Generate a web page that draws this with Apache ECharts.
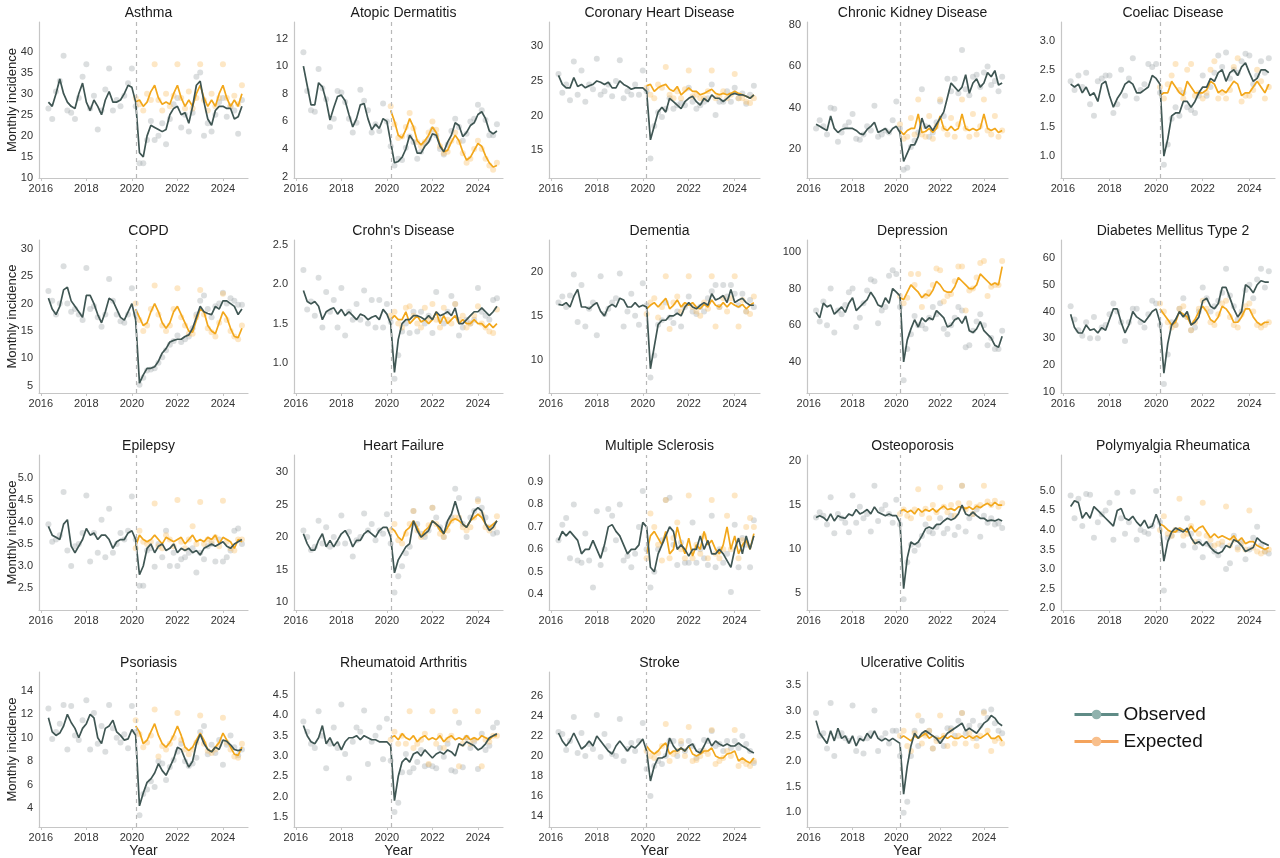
<!DOCTYPE html>
<html lang="en">
<head>
<meta charset="utf-8" />
<style>
  html, body { margin: 0; width: 100%; height: 100%; background: #fff; }
  #container { width: 1280px; height: 858px; }
</style>
<script src="https://cdn.jsdelivr.net/npm/echarts@6/dist/echarts.min.js"></script>
</head>
<body>
<div id="container"></div>
<script>
// panel titles, in reading order
var titles = ["Asthma", "Atopic Dermatitis", "Coronary Heart Disease", "Chronic Kidney Disease", "Coeliac Disease",
  "COPD", "Crohn's Disease", "Dementia", "Depression", "Diabetes Mellitus Type 2",
  "Epilepsy", "Heart Failure", "Multiple Sclerosis", "Osteoporosis", "Polymyalgia Rheumatica",
  "Psoriasis", "Rheumatoid Arthritis", "Stroke", "Ulcerative Colitis"];

var yearTicks = [2016, 2018, 2020, 2022, 2024];
var yTicks = [
  [10, 15, 20, 25, 30, 35, 40], [2, 4, 6, 8, 10, 12], [15, 20, 25, 30], [20, 40, 60, 80], [1.0, 1.5, 2.0, 2.5, 3.0],
  [5, 10, 15, 20, 25, 30], [1.0, 1.5, 2.0, 2.5], [10, 15, 20], [40, 60, 80, 100], [10, 20, 30, 40, 50, 60],
  [2.5, 3.0, 3.5, 4.0, 4.5, 5.0], [10, 15, 20, 25, 30], [0.4, 0.5, 0.6, 0.7, 0.8, 0.9], [5, 10, 15, 20], [2.0, 2.5, 3.0, 3.5, 4.0, 4.5, 5.0],
  [4, 6, 8, 10, 12, 14], [1.5, 2.0, 2.5, 3.0, 3.5, 4.0, 4.5], [14, 16, 18, 20, 22, 24, 26], [1.0, 1.5, 2.0, 2.5, 3.0, 3.5]
];

// time index: every second month from May 2016; expected starts March 2020
var firstMonth = 2016 + 4 / 12;
var stepYears = 2 / 12;
var lockdown = 2020 + 2 / 12;
var expStart = 23;

// observed rows: 2016 (May-Nov), then Jan..Nov of 2017..2024
var asthmaObs = [28, 27, 30, 33.5,
  30, 28, 27, 26.5, 30, 32.5, 28, 26, 28.5, 27, 25, 28.5, 30.5, 28, 28, 28.5, 30, 32,
  31.5, 28, 16, 15, 20, 22.5, 22, 21.5, 21, 21.5, 25, 26.5, 27, 25, 25.5, 23, 27, 32,
  33, 28, 24, 22.5, 26, 27, 27, 26.5, 26.5, 24, 24.5, 27];
var asthmaObsPts = [26.5, 24, 30.5, 33,
  39, 26, 25.5, 24, 29, 34, 37, 26.5, 29.5, 21.5, 26, 31, 36, 26, 28.5, 27, 29.5, 32.5,
  36, 27, 13.5, 13.5, 19, 23.5, 19, 20, 23, 18, 24, 27.5, 29, 22, 25, 21, 25.5, 34,
  35, 20, 23, 21, 25, 28, 29, 24.5, 27, 26, 20.5, 28.5];
var asthmaExp = [28, 28.5, 27, 28, 30.5,
  32, 29, 27.5, 28, 27.5, 30, 32, 29, 27, 28.5, 27, 30, 32, 29, 27, 28.5, 27, 30, 32, 29, 27, 28.5, 27, 30];
var asthmaExpPts = [29, 27.5, 26, 30, 28.5,
  37, 28.5, 26, 30, 27, 29.5, 37, 29, 26.5, 30.5, 26.5, 29, 37, 28.5, 26, 30, 27, 29, 37, 29, 27, 29.5, 27.5, 32];

var atopicObs = [10, 8.6, 7.2, 7.2,
  8.8, 8.5, 7.5, 6.1, 7, 7.8, 7.9, 7.5, 6.5, 5.6, 6.2, 7.2, 7.3, 6.2, 5.4, 5.8, 5.5, 6.2,
  6.0, 4.5, 3.0, 3.1, 3.4, 4.0, 5.0, 4.6, 3.7, 3.7, 4.2, 4.5, 5.1, 5.0, 4.2, 3.8, 4.5, 5.0,
  5.9, 5.7, 4.9, 5.2, 5.7, 5.9, 6.5, 6.7, 6.2, 5.3, 5.1, 5.3];
var atopicObsPts = [11, 8.2, 6.8, 6.7,
  9.8, 8.4, 7.6, 5.6, 6.2, 8.2, 8.1, 7.4, 6.2, 5.2, 5.9, 8.3, 7.5, 6.8, 5.2, 5.8, 5.3, 7.3,
  6.0, 4.2, 2.8, 3.3, 3.2, 4.1, 4.9, 4.5, 3.3, 3.8, 4.4, 4.7, 5.4, 5.0, 4.0, 3.6, 4.3, 5.3,
  6.2, 5.6, 4.6, 5.1, 6.0, 6.2, 7.2, 6.8, 6.1, 5.0, 5.0, 5.8];
var atopicExp = [6.8, 6.0, 5.0, 4.8, 5.4,
  6.2, 5.6, 4.6, 4.3, 4.6, 5.0, 5.6, 5.2, 4.3, 3.8, 3.9, 4.5, 5.0, 4.6, 3.8, 3.2, 3.4, 3.9, 4.4, 4.2, 3.5, 3.0, 2.7, 2.8];
var atopicExpPts = [7.1, 5.8, 4.8, 4.9, 5.6,
  6.6, 5.5, 4.5, 4.2, 4.5, 5.2, 6.0, 5.4, 4.2, 3.7, 3.8, 4.6, 5.2, 4.5, 3.7, 3.0, 3.3, 4.0, 4.6, 4.0, 3.3, 2.8, 2.5, 3.0];

var chdObs = [25.8, 24.5, 24, 24,
  25.5, 24.2, 24.5, 24, 24.3, 24.5, 25, 24.8, 24.5, 24.8, 24, 24, 25, 24.5, 24.2, 23.8, 24, 24,
  24, 23.5, 16.5, 18.5, 20.5, 21.2, 20.5, 22.5, 22, 21.5, 21, 22, 22.5, 22.8, 22, 21.5, 22.5, 22,
  23, 22.5, 22.5, 22, 22.5, 23, 23.2, 23, 23, 22.8, 22.5, 23];
var chdObsPts = [26, 23.3, 24.5, 22.2,
  27.8, 23, 26.5, 22, 24.5, 23.8, 28.2, 23, 23.5, 24.5, 22.8, 25, 28, 22.5, 23.5, 23, 24.5, 23,
  26.5, 23.5, 13.8, 18.5, 20.5, 19.8, 21, 22.5, 21, 21.5, 21.8, 21.5, 24, 22, 21, 21.5, 22, 22.5,
  24.5, 20.1, 22, 22, 23.5, 22, 24, 22.5, 23.2, 21.7, 23, 24.3];
var chdExp = [24.3, 24.5, 23.5, 24, 24.3,
  24.5, 23.8, 23.5, 24.2, 23, 23.5, 24, 23.5, 23.5, 23, 23.2, 23.5, 23.8, 23.2, 23, 23.2, 23, 23.2, 23.5, 23.2, 23, 22.8, 22.5, 23];
var chdExpPts = [24, 23, 22.5, 24.5, 24,
  27, 23, 22.5, 23.5, 22.5, 23.8, 26.5, 22.8, 23, 22.5, 22.5, 23.5, 26.5, 22.5, 22.8, 23.5, 22.5, 23, 26, 22.5, 22.5, 22, 21.8, 22.5];

var ckdObs = [32, 31, 30, 29,
  36, 30, 28, 29.5, 30, 30, 30, 29, 27.5, 27, 29.5, 31, 33, 28, 29, 30, 27.5, 30,
  31, 28, 14, 18, 22, 22, 26, 35, 30, 31.5, 29, 32, 35, 38, 45, 52, 50, 48,
  50, 56, 47, 52, 54, 50, 52, 57, 55, 58, 51, 52];
var ckdObsPts = [30, 34, 31, 27,
  40, 39.5, 23.5, 28, 31, 33, 37, 25, 24.5, 27, 31, 29, 41, 26, 27, 29, 28, 34,
  43, 30, 10, 11, 21, 24, 28, 49, 31, 26, 28, 33, 43, 36, 54, 48, 54, 47,
  68, 49, 46, 55, 56, 50, 57, 60, 51, 53, 48, 55];
var ckdExp = [29, 27, 29, 30, 30,
  37, 28, 28.5, 30, 28, 30, 36, 30, 29, 31, 29, 30, 37, 30, 29, 30, 29, 30, 37, 30, 29, 30, 28, 29];
var ckdExpPts = [32, 25, 26, 35, 27,
  44, 27, 26, 36, 25, 31, 44, 30, 27, 35, 26, 32, 44, 30, 26, 37, 27, 31, 44, 29, 27, 36, 26, 29];

var coeliacObs = [2.25, 2.2, 2.25, 2.1,
  2.2, 2.05, 2.1, 1.95, 2.25, 2.3, 2.05, 1.85, 2.0, 2.1, 2.25, 2.3, 2.25, 2.1, 2.1, 2.15, 2.2, 2.4,
  2.35, 2.25, 1.0, 1.3, 1.7, 1.75, 1.75, 1.95, 1.95, 1.85, 1.95, 2.1, 2.2, 2.2, 2.35, 2.3, 2.45, 2.5,
  2.3, 2.45, 2.5, 2.4, 2.55, 2.62, 2.45, 2.3, 2.35, 2.5, 2.5, 2.45];
var coeliacObsPts = [2.3, 2.15, 2.4, 2.2,
  2.45, 1.9, 1.7, 2.3, 2.35, 2.4, 2.4, 1.75, 1.9, 2.5, 2.05, 2.35, 2.7, 2.0, 2.15, 2.25, 2.6, 2.55,
  2.6, 2.1, 0.85, 1.2, 1.65, 1.85, 1.7, 2.1, 1.85, 1.8, 1.75, 2.05, 2.4, 2.05, 2.2, 2.45, 2.75, 2.55,
  2.8, 2.35, 2.5, 2.45, 2.65, 2.78, 2.75, 2.25, 2.4, 2.65, 2.45, 2.7];
var coeliacExp = [2.05, 2.1, 2.1, 2.3, 2.2,
  2.1, 2.05, 2.3, 2.2, 2.1, 2.1, 2.1, 2.15, 2.3, 2.25, 2.1, 2.15, 2.1, 2.2, 2.3, 2.25, 2.05, 2.1, 2.1, 2.2, 2.3, 2.2, 2.1, 2.25];
var coeliacExpPts = [2.2, 2.0, 2.25, 2.4, 2.6,
  2.15, 2.0, 2.5, 2.6, 2.05, 2.1, 2.0, 2.1, 2.5, 2.65, 2.0, 2.1, 2.0, 2.15, 2.55, 2.7, 1.95, 2.05, 2.05, 2.15, 2.5, 2.3, 2.0, 2.2];

var copdObs = [21, 19, 18, 19.5,
  22.5, 23, 20.5, 19.5, 18.5, 17.5, 21.5, 21.5, 20, 18, 16.5, 18.5, 21, 20.5, 19, 17.5, 17, 18.5,
  20, 17, 5.5, 7, 8.2, 8.2, 8.5, 9.5, 11, 11.8, 13, 13.3, 13.5, 13.5, 14, 14.3, 15.5, 17.5,
  19.5, 18.5, 18.2, 18, 19.5, 19, 20.5, 20.5, 20, 19.5, 18, 19];
var copdObsPts = [22.3, 20.5, 18, 20,
  26.8, 20, 18.5, 19, 18, 17, 26.5, 19, 19.5, 17.5, 15.8, 18, 24.5, 20.5, 18, 16.8, 16.5, 18,
  22.8, 18, 5.2, 6.5, 7.8, 8, 8.2, 9.2, 10.2, 11.5, 12.5, 13.2, 14.2, 13, 13.5, 14, 15.5, 18,
  20.5, 21.5, 19, 17.5, 19.5, 20, 22, 20, 21, 20.5, 19.8, 19.8];
var copdExp = [19, 17.5, 16, 16.5, 18.5,
  20, 18.5, 16.5, 15.5, 16.5, 18.5, 19.5, 18, 16.5, 15, 14.8, 17, 19, 18.5, 16, 15, 14.5, 16.5, 18.5, 17.5, 15.5, 14, 13.8, 15.5];
var copdExpPts = [20, 17, 15, 16, 19,
  23.3, 18, 16, 15, 16, 19, 22.8, 17.5, 16, 14.5, 14.5, 17.5, 22.5, 18, 15.5, 14.8, 14, 16.5, 21.8, 17, 15, 14, 13.5, 16];

var crohnsObs = [1.92, 1.78, 1.75, 1.78,
  1.72, 1.55, 1.65, 1.68, 1.7, 1.62, 1.68, 1.6, 1.65, 1.6, 1.55, 1.62, 1.6, 1.55, 1.58, 1.6, 1.55, 1.68,
  1.62, 1.5, 0.88, 1.3, 1.5, 1.55, 1.55, 1.6, 1.6, 1.58, 1.55, 1.6, 1.55, 1.65, 1.6, 1.62, 1.65, 1.6,
  1.7, 1.5, 1.5, 1.55, 1.6, 1.65, 1.65, 1.7, 1.65, 1.6, 1.65, 1.72];
var crohnsObsPts = [2.18, 1.68, 1.78, 1.6,
  2.08, 1.45, 1.9, 1.65, 1.8, 1.45, 1.95, 1.35, 1.65, 1.55, 1.75, 1.55, 1.92, 1.5, 1.8, 1.45, 1.8, 1.45,
  1.75, 1.52, 0.8, 1.1, 1.4, 1.5, 1.38, 1.65, 1.4, 1.65, 1.5, 1.6, 1.38, 1.9, 1.55, 1.5, 1.65, 1.85,
  1.75, 1.35, 1.45, 1.55, 1.5, 1.55, 1.95, 1.65, 1.6, 1.55, 1.8, 1.82];
var crohnsExp = [1.55, 1.6, 1.55, 1.55, 1.65,
  1.5, 1.55, 1.6, 1.52, 1.55, 1.5, 1.55, 1.65, 1.5, 1.6, 1.5, 1.55, 1.6, 1.5, 1.55, 1.5, 1.5, 1.55, 1.5, 1.5, 1.45, 1.5, 1.45, 1.5];
var crohnsExpPts = [1.6, 1.65, 1.5, 1.45, 1.7,
  1.72, 1.6, 1.5, 1.45, 1.7, 1.55, 1.75, 1.55, 1.45, 1.7, 1.55, 1.5, 1.75, 1.55, 1.6, 1.45, 1.5, 1.6, 1.72, 1.5, 1.45, 1.4, 1.38, 1.68];

var dementiaObs = [16.3, 16.2, 16.5, 16,
  17.2, 18, 16, 16, 15.8, 16.2, 16.5, 15.5, 15, 16, 16.3, 16, 17, 16.8, 16, 16, 16.5, 16,
  16.2, 16, 9, 11.5, 14, 14.5, 14.5, 15, 15, 15.3, 15, 16, 16.5, 16, 15.8, 16.2, 16.5, 16.2,
  17.5, 16.8, 17, 17.3, 16.5, 18, 16.5, 16.8, 17, 16.5, 16.2, 16.2];
var dementiaObsPts = [16.5, 17.2, 16, 17.3,
  19.7, 14.3, 18.5, 13.8, 15.8, 16.5, 12.8, 19.5, 15.2, 15.8, 16.5, 17, 19.8, 13.8, 15.5, 17.5, 15, 14,
  18.7, 16.2, 8, 10.5, 14, 14.5, 16.5, 14.8, 14.2, 15.5, 13.8, 16, 17.2, 15.5, 15.2, 16, 15.5, 17,
  17.8, 18.5, 16, 18.5, 17.2, 18.5, 17.5, 16.2, 17.5, 15.5, 16.8, 16];
var dementiaExp = [15.8, 16.2, 16.5, 16, 16.5,
  17, 15.8, 16.2, 16.8, 16, 16.5, 16.2, 16.5, 16, 15.8, 16.3, 16, 16.8, 16.2, 16, 16.5, 16, 16.5, 16.2, 16, 16.3, 15.8, 16.2, 16.5];
var dementiaExpPts = [15.2, 16.5, 17, 14.8, 16,
  19.5, 13.5, 16.5, 17.2, 15.5, 16.2, 19.5, 16, 15.5, 15, 16.5, 15.8, 19.5, 13.8, 16, 17, 15.5, 17, 19.5, 13.8, 16.8, 15.5, 15.2, 17.2];

var depressionObs = [67, 64, 72, 70,
  71, 66, 68, 70, 67, 72, 75, 68, 70, 72, 74, 78, 75, 71, 70, 75, 72, 80,
  78, 76, 40, 52, 58, 63, 59, 64, 62, 64, 63, 68, 66, 64, 59, 60, 63, 64,
  61, 65, 57, 56, 58, 62, 57, 55, 53, 49, 48, 54];
var depressionObsPts = [68, 62, 73, 60,
  80, 56, 68, 66, 71, 78, 80, 59, 64, 72, 79, 85, 84, 61, 68, 70, 87, 90,
  88, 70, 30, 47, 55, 65, 60, 60, 58, 64, 70, 66, 72, 58, 55, 60, 64, 70,
  68, 48, 49, 57, 62, 66, 60, 49, 53, 47, 47, 57];
var depressionExp = [75, 74, 78, 82, 80,
  78, 75, 77, 76, 79, 84, 82, 79, 78, 78, 81, 86, 84, 82, 80, 80, 82, 88, 86, 84, 82, 83, 82, 92];
var depressionExpPts = [76, 72, 75, 88, 82,
  88, 70, 76, 78, 82, 91, 90, 73, 76, 77, 84, 92, 92, 68, 79, 80, 86, 94, 95, 76, 81, 82, 82, 95];

var diabetesObs = [39, 34, 32, 32,
  35, 33, 33.5, 32, 34, 33, 37, 41, 41, 36, 32, 35, 40, 38, 37, 36, 38, 40,
  41, 36, 17, 28, 35, 37, 40, 38, 40, 35, 36, 38, 44, 45, 42, 41, 43, 49,
  49, 45, 41, 38, 40, 50, 49, 47, 50, 51.5, 51, 51];
var diabetesObsPts = [42, 37, 33, 31,
  36, 30, 38, 30, 34, 35, 39, 43, 40, 36, 29, 36, 41, 41, 36, 34, 39, 44,
  43, 35, 13, 24, 36, 35, 41, 45, 38, 33, 34, 40, 49, 45, 40, 42, 44, 47,
  56, 46, 42, 37, 40, 48, 50, 45, 52, 56, 49, 55];
var diabetesExp = [41, 39, 37, 35, 36,
  40, 39, 38, 35, 37, 40, 42, 40, 37, 36, 38, 42, 41, 39, 36, 36, 38, 41, 41, 38, 36, 35, 36, 36];
var diabetesExpPts = [43, 40, 36, 34, 35,
  41, 42, 38, 33, 36, 41, 44, 41, 36, 35, 39, 43, 44, 38, 35, 34, 39, 42, 43, 40, 35, 34, 35, 36];

var epilepsyObs = [3.9, 3.7, 3.65, 3.6,
  3.95, 4.05, 3.45, 3.3, 3.45, 3.6, 3.85, 3.7, 3.75, 3.6, 3.7, 3.7, 3.6, 3.4, 3.55, 3.6, 3.6, 3.75,
  3.8, 3.6, 2.8, 3.0, 3.4, 3.5, 3.3, 3.45, 3.5, 3.35, 3.4, 3.5, 3.3, 3.4, 3.35, 3.4, 3.3, 3.35,
  3.25, 3.4, 3.45, 3.5, 3.45, 3.5, 3.55, 3.45, 3.4, 3.5, 3.55, 3.6];
var epilepsyObsPts = [3.95, 3.55, 3.6, 3.7,
  4.68, 3.35, 3.0, 3.45, 3.5, 3.75, 4.6, 3.1, 3.75, 3.3, 4.05, 3.2, 4.3, 3.3, 3.5, 3.75, 3.6, 3.8,
  4.58, 3.6, 2.55, 2.55, 3.35, 3.4, 2.98, 3.5, 3.2, 3.8, 3.0, 3.3, 3.0, 3.15, 3.2, 3.3, 3.4, 2.85,
  3.3, 3.15, 3.45, 3.5, 3.1, 3.6, 3.1, 3.2, 3.35, 3.8, 3.85, 3.5];
var epilepsyExp = [3.45, 3.7, 3.6, 3.55, 3.6,
  3.7, 3.6, 3.5, 3.65, 3.6, 3.55, 3.6, 3.65, 3.5, 3.6, 3.7, 3.55, 3.6, 3.55, 3.65, 3.6, 3.7, 3.5, 3.65, 3.6, 3.55, 3.4, 3.6, 3.55];
var epilepsyExpPts = [3.4, 3.8, 3.55, 3.5, 3.55,
  4.42, 3.45, 3.4, 3.7, 3.6, 3.45, 4.5, 3.55, 3.4, 3.6, 3.9, 3.5, 4.45, 3.5, 3.6, 3.55, 3.65, 3.45, 4.48, 3.55, 3.4, 3.35, 3.6, 3.6];

var heartObs = [20.5, 19, 18, 18,
  19.5, 20.5, 18.5, 19.5, 18.5, 19.5, 20.5, 21, 20, 18.5, 19.5, 19.5, 20.5, 21, 20.5, 20, 21, 21.5,
  21.5, 20, 14.5, 16.5, 17.5, 18.5, 19, 22.5, 21, 20, 20.5, 21, 22.5, 22, 21.5, 20.5, 22.5, 23.5,
  25.5, 23.5, 22, 21.5, 22.5, 24, 24.5, 24, 22, 21, 21.5, 22.5];
var heartObsPts = [21, 20, 18, 18.5,
  22.5, 19, 21.5, 18.5, 20, 19, 23.3, 19, 20.8, 17, 19.5, 20, 23.6, 21, 22, 19.5, 21, 20.5,
  23.5, 19, 11.5, 14, 15.5, 17.5, 18.5, 24, 22, 20.5, 20, 21, 24.5, 23, 21.5, 20, 22, 23,
  27.4, 26, 22, 20, 23, 24, 25.8, 24.5, 23, 21.5, 20.5, 20.7];
var heartExp = [21.5, 21, 20, 19.5, 21,
  21.5, 22.5, 21.5, 20, 21, 21.5, 22.5, 22, 21, 20.5, 21.5, 22.5, 22.8, 22.5, 22, 21.5, 22.5, 23, 23.5, 23, 22, 21.5, 22, 22.5];
var heartExpPts = [21, 22, 19.5, 19, 20.5,
  22, 24, 21, 20, 20.5, 21.8, 24.5, 22, 20.5, 20, 21, 22.5, 23, 23, 21.5, 21, 21.5, 23, 25.5, 23.5, 21.5, 21, 21.5, 23.2];

var msObs = [0.64, 0.68, 0.66, 0.68,
  0.66, 0.64, 0.58, 0.6, 0.6, 0.64, 0.6, 0.56, 0.62, 0.7, 0.71, 0.68, 0.66, 0.62, 0.58, 0.6, 0.6, 0.62,
  0.72, 0.7, 0.52, 0.5, 0.58, 0.62, 0.66, 0.7, 0.68, 0.6, 0.62, 0.6, 0.57, 0.6, 0.6, 0.66, 0.6, 0.64,
  0.58, 0.58, 0.6, 0.58, 0.55, 0.52, 0.6, 0.65, 0.58, 0.66, 0.6, 0.66];
var msObsPts = [0.64, 0.71, 0.74, 0.56,
  0.8, 0.55, 0.54, 0.67, 0.55, 0.43, 0.77, 0.53, 0.6, 0.78, 0.75, 0.64, 0.8, 0.55, 0.57, 0.52, 0.58, 0.7,
  0.86, 0.6, 0.43, 0.5, 0.6, 0.64, 0.82, 0.83, 0.62, 0.53, 0.63, 0.54, 0.54, 0.72, 0.54, 0.6, 0.56, 0.53,
  0.75, 0.52, 0.6, 0.54, 0.58, 0.41, 0.71, 0.52, 0.65, 0.62, 0.52, 0.73];
var msExp = [0.58, 0.66, 0.68, 0.65, 0.62,
  0.68, 0.58, 0.6, 0.7, 0.63, 0.58, 0.65, 0.57, 0.62, 0.6, 0.68, 0.62, 0.64, 0.6, 0.58, 0.62, 0.7, 0.6, 0.66, 0.58, 0.62, 0.64, 0.6, 0.67];
var msExpPts = [0.56, 0.76, 0.7, 0.62, 0.55,
  0.82, 0.56, 0.65, 0.72, 0.6, 0.56, 0.84, 0.56, 0.62, 0.58, 0.66, 0.56, 0.82, 0.58, 0.56, 0.6, 0.75, 0.6, 0.84, 0.56, 0.64, 0.7, 0.74, 0.7];

var osteoObs = [13.6, 13.8, 13.6, 13.2,
  14, 13.2, 13.8, 13.6, 13.5, 14, 13.8, 14.5, 14, 14.2, 14.5, 14, 14.8, 14.2, 14, 13.8, 14, 13.8,
  13.8, 13, 5.5, 9, 10.8, 10.5, 10.8, 11.5, 12.3, 12.5, 12.3, 12.8, 12.8, 13.2, 13.5, 13.3, 13.5, 14,
  15, 14, 13.8, 14.2, 13.8, 13.5, 13.5, 13.2, 13.3, 13.2, 13.4, 13.2];
var osteoObsPts = [13.6, 14.2, 13.8, 12.8,
  15.9, 11.8, 14, 13.5, 13, 11.9, 16.1, 13, 14.8, 13.5, 14, 12, 17.2, 13.2, 14.5, 15, 14, 13,
  15.6, 12.8, 4.3, 8.5, 10.5, 9.8, 10.5, 11.5, 12.8, 12, 11.8, 12.5, 13.5, 11.8, 12.3, 13.8, 11.6, 12.5,
  17.2, 12, 13.5, 14, 14.5, 11.4, 13.8, 13, 13.5, 12.8, 12.9, 12.4];
var osteoExp = [14.3, 14.5, 14.2, 14.4, 14,
  14.6, 14.2, 14.5, 14.3, 14.6, 14.2, 14.6, 14.9, 14.5, 14.6, 14.4, 14.8, 14.8, 14.6, 14.8, 14.5, 14.9, 14.7, 15.0, 15.2, 14.9, 15.3, 15, 15];
var osteoExpPts = [14, 14.5, 13.8, 13.5, 14.5,
  16.8, 14, 14.6, 13.5, 15, 14.2, 17, 14.8, 14.2, 15, 13.8, 15.2, 17.2, 14.5, 15.2, 14, 14.8, 15, 17.2, 15.4, 15, 15.5, 14.8, 15.2];

var pmrObs = [4.6, 4.75, 4.7, 4.3,
  4.45, 4.3, 4.6, 4.5, 4.4, 4.3, 4.2, 4.1, 4.5, 4.55, 4.3, 4.25, 4.35, 4.2, 4.1, 4.25, 4.05, 4.1,
  4.4, 4.15, 3.2, 3.7, 3.95, 4.05, 4.0, 3.95, 4.05, 3.8, 3.65, 3.7, 3.6, 3.7, 3.55, 3.45, 3.4, 3.45,
  3.6, 3.55, 3.75, 3.7, 3.6, 3.45, 3.5, 3.55, 3.8, 3.7, 3.65, 3.6];
var pmrObsPts = [4.88, 4.3, 4.8, 4.1,
  4.92, 4.9, 3.8, 4.2, 4.4, 4.5, 4.7, 3.75, 4.95, 4.3, 3.9, 4.2, 4.98, 3.75, 4.0, 3.95, 3.9, 4.1,
  5.0, 4.2, 2.45, 3.8, 3.85, 4.0, 4.0, 3.6, 4.3, 3.9, 3.55, 3.7, 3.3, 3.65, 3.6, 3.45, 3.35, 3.6,
  3.0, 3.15, 3.85, 3.55, 3.7, 3.25, 3.5, 3.8, 4.08, 3.6, 3.45, 3.4];
var pmrExp = [4.15, 4.1, 4.0, 3.95, 3.95,
  4.05, 4.0, 3.95, 4.1, 3.95, 4.05, 4.1, 3.95, 3.8, 3.9, 3.8, 3.85, 3.8, 3.75, 3.85, 3.7, 3.8, 3.65, 3.7, 3.7, 3.6, 3.55, 3.5, 3.55];
var pmrExpPts = [4.0, 4.35, 3.9, 3.85, 4.0,
  4.8, 3.85, 3.9, 4.1, 3.7, 3.9, 4.7, 3.85, 3.75, 3.6, 3.65, 3.7, 4.6, 3.6, 3.75, 3.5, 3.65, 3.5, 4.5, 3.55, 3.45, 3.4, 3.45, 3.5];

var psoriasisObs = [11.7, 10.5, 10.2, 10.4,
  11.0, 12.0, 11.3, 10.8, 10.0, 10.8, 11.2, 12.0, 11.7, 10.0, 9.5, 10.8, 11.0, 11.5, 10.5, 10.2, 9.8, 9.9,
  10.7, 10.2, 4.2, 5.3, 6.2, 6.5, 7.0, 7.8, 7.2, 6.8, 7.5, 8.2, 9.2, 9.0, 8.2, 7.5, 8.0, 9.5,
  10.3, 9.5, 9.0, 8.8, 9.2, 9.0, 9.8, 9.7, 9.4, 9.0, 8.9, 9.0];
var psoriasisObsPts = [12.5, 9.9, 10.5, 11.2,
  12.8, 9.0, 12.7, 10.2, 9.8, 11.5, 13.2, 9.0, 12.1, 9.5, 11, 8.8, 12.8, 10.8, 10, 9.6, 10.3, 9.1,
  12.7, 10.5, 3.4, 5.2, 5.6, 6.3, 5.8, 8.0, 7.8, 6.4, 7.5, 8.1, 8.8, 9.5, 8.0, 7.6, 7.8, 8.3,
  10.5, 11.0, 8.6, 9.4, 8.7, 9.8, 7.7, 9.4, 10.2, 9.2, 8.5, 9.0];
var psoriasisExp = [11, 10.5, 9.5, 9.8, 10.5,
  11.2, 10.2, 9.5, 9.2, 9.6, 10.2, 11, 10.2, 9.2, 8.9, 9.2, 9.8, 10.4, 9.8, 9.0, 8.8, 9.2, 9.6, 10.4, 9.8, 9.2, 8.6, 8.5, 9.2];
var psoriasisExpPts = [11.5, 10.3, 9.2, 9.6, 10.2,
  12.4, 8.4, 9.3, 9.0, 9.5, 10.0, 12.1, 9.8, 9.0, 8.6, 9.0, 9.6, 11.9, 9.5, 8.9, 8.7, 9.0, 9.4, 11.7, 9.6, 9.0, 8.4, 8.3, 9.5];

var raObs = [3.75, 3.5, 3.35, 3.3,
  3.45, 3.75, 3.3, 3.45, 3.25, 3.35, 3.15, 3.35, 3.45, 3.45, 3.5, 3.4, 3.5, 3.45, 3.4, 3.4, 3.35, 3.35,
  3.35, 3.25, 1.9, 2.5, 2.85, 2.95, 2.85, 3.05, 3.1, 3.0, 3.15, 3.05, 2.95, 3.05, 3.1, 3.05, 3.15, 3.1,
  3.0, 3.3, 3.25, 3.35, 3.3, 3.25, 3.15, 3.2, 3.3, 3.45, 3.5, 3.55];
var raObsPts = [3.85, 3.6, 3.3, 3.2,
  4.1, 3.5, 2.7, 3.3, 3.7, 3.2, 4.27, 3.05, 2.45, 3.35, 3.7, 3.6, 4.12, 2.8, 3.35, 3.5, 3.7, 2.92,
  3.92, 2.88, 1.62, 1.85, 2.6, 3.05, 2.6, 2.7, 2.85, 3.15, 2.75, 2.78, 2.75, 2.7, 3.2, 2.98, 3.3, 2.65,
  2.62, 3.82, 2.72, 3.45, 3.2, 3.35, 2.68, 3.55, 3.15, 3.25, 3.7, 3.82];
var raExp = [3.45, 3.5, 3.4, 3.55, 3.45,
  3.4, 3.5, 3.35, 3.45, 3.5, 3.4, 3.45, 3.4, 3.5, 3.35, 3.45, 3.5, 3.4, 3.45, 3.4, 3.5, 3.4, 3.45, 3.4, 3.5, 3.45, 3.4, 3.5, 3.5];
var raExpPts = [3.4, 3.6, 3.3, 3.5, 3.3,
  4.1, 3.2, 3.3, 3.4, 3.55, 2.8, 4.1, 3.3, 3.5, 3.2, 3.4, 3.5, 4.1, 2.75, 3.3, 3.45, 3.3, 3.4, 4.1, 2.75, 3.4, 3.35, 3.5, 3.5];

var strokeObs = [22.3, 21.5, 21, 21.5,
  22.3, 21.5, 20.7, 21, 21.5, 21, 22, 21.5, 21, 20.5, 20.2, 21, 21.5, 21, 20.5, 21, 20.8, 21.2,
  21.7, 20.5, 17.5, 19, 19.8, 19.8, 20, 21.8, 21, 20.5, 20.8, 20.5, 21, 21.2, 20.5, 20.3, 21, 21.8,
  21, 21.5, 21.2, 21, 21.2, 21, 21, 21.3, 21, 20.8, 20.5, 20.3];
var strokeObsPts = [22.4, 22.2, 20.6, 21.5,
  23.9, 20.3, 22.3, 20, 21.2, 20.7, 24.1, 19.9, 22.2, 21, 20.2, 20, 23.7, 19.5, 20.7, 21.3, 20.5, 21.5,
  23.3, 18.7, 16, 19, 19.5, 19.2, 20, 21.5, 21.5, 20, 21.2, 20.5, 21.5, 21, 19.8, 20.5, 21.6, 21.5,
  22.5, 21, 21.2, 20.5, 21.5, 20.8, 21.5, 20.8, 22, 21.2, 20.5, 19.3];
var strokeExp = [21, 20.5, 20.2, 20.5, 21,
  21.3, 20.2, 20.5, 20.5, 20.8, 20.5, 21, 20.2, 20, 20.2, 20.5, 20.5, 20.8, 20, 19.8, 19.8, 20.2, 20.3, 20.5, 19.5, 19.8, 19.5, 19.3, 19.8];
var strokeExpPts = [20.5, 20, 19.8, 20.3, 21,
  23.2, 19.5, 20.2, 20.5, 21.5, 20, 22.9, 19.5, 19.6, 20, 20.5, 20.2, 22.6, 19.2, 19.5, 19.8, 20.5, 20, 22.6, 19, 19.5, 19.2, 19.0, 19.5];

var ucObs = [2.8, 2.55, 2.45, 2.35,
  2.6, 2.4, 2.65, 2.45, 2.5, 2.35, 2.5, 2.3, 2.45, 2.4, 2.55, 2.45, 2.6, 2.45, 2.4, 2.45, 2.4, 2.45,
  2.4, 2.35, 1.35, 1.9, 2.3, 2.55, 2.45, 2.55, 2.6, 2.55, 2.5, 2.45, 2.35, 2.45, 2.55, 2.6, 2.65, 2.7,
  2.75, 2.6, 2.65, 2.6, 2.55, 2.65, 2.75, 2.8, 2.9, 2.85, 2.75, 2.7];
var ucObsPts = [2.95, 2.5, 2.55, 2.25,
  3.15, 2.1, 2.5, 2.55, 2.45, 2.4, 3.1, 2.2, 2.45, 2.15, 2.45, 2.55, 3.0, 2.2, 2.45, 2.55, 2.35, 2.6,
  2.6, 2.1, 0.98, 1.2, 2.1, 2.6, 2.3, 2.8, 2.55, 2.6, 2.25, 2.45, 2.4, 2.3, 2.65, 2.65, 2.5, 2.8,
  2.95, 2.55, 2.7, 2.8, 2.45, 2.7, 2.98, 2.85, 3.02, 2.75, 2.6, 2.55];
var ucExp = [2.45, 2.5, 2.45, 2.4, 2.5,
  2.45, 2.5, 2.55, 2.45, 2.5, 2.45, 2.45, 2.5, 2.45, 2.5, 2.45, 2.45, 2.5, 2.45, 2.5, 2.45, 2.5, 2.45, 2.5, 2.55, 2.45, 2.45, 2.5, 2.4];
var ucExpPts = [2.5, 2.6, 2.3, 2.2, 2.55,
  2.9, 2.35, 2.5, 2.6, 2.25, 2.4, 2.9, 2.5, 2.3, 2.6, 2.35, 2.5, 2.95, 2.35, 2.55, 2.45, 2.3, 2.5, 2.95, 2.6, 2.2, 2.4, 2.45, 2.35];

var observed = [asthmaObs, atopicObs, chdObs, ckdObs, coeliacObs, copdObs, crohnsObs, dementiaObs, depressionObs, diabetesObs,
  epilepsyObs, heartObs, msObs, osteoObs, pmrObs, psoriasisObs, raObs, strokeObs, ucObs];
var observedPts = [asthmaObsPts, atopicObsPts, chdObsPts, ckdObsPts, coeliacObsPts, copdObsPts, crohnsObsPts, dementiaObsPts, depressionObsPts, diabetesObsPts,
  epilepsyObsPts, heartObsPts, msObsPts, osteoObsPts, pmrObsPts, psoriasisObsPts, raObsPts, strokeObsPts, ucObsPts];
var expected = [asthmaExp, atopicExp, chdExp, ckdExp, coeliacExp, copdExp, crohnsExp, dementiaExp, depressionExp, diabetesExp,
  epilepsyExp, heartExp, msExp, osteoExp, pmrExp, psoriasisExp, raExp, strokeExp, ucExp];
var expectedPts = [asthmaExpPts, atopicExpPts, chdExpPts, ckdExpPts, coeliacExpPts, copdExpPts, crohnsExpPts, dementiaExpPts, depressionExpPts, diabetesExpPts,
  epilepsyExpPts, heartExpPts, msExpPts, osteoExpPts, pmrExpPts, psoriasisExpPts, raExpPts, strokeExpPts, ucExpPts];

// ---- layout ----
var colLeft = [39, 294, 549, 807, 1061];
var colWidth = [209, 209, 211, 201, 214];
var rowTop = [22, 240, 455, 672];
var rowHeight = [156, 153, 155, 155];
var yRange = [
  [10, 47], [1.9, 13.2], [11, 33.5], [6, 81.5], [0.62, 3.33],
  [3.7, 31.6], [0.62, 2.56], [6.25, 23.6], [23, 106.5], [9.6, 66.7],
  [2.0, 5.52], [8.8, 32.6], [0.33, 1.02], [3.07, 20.7], [1.95, 5.92],
  [2.4, 15.6], [1.25, 5.07], [12.9, 28.4], [0.7, 3.76]
];
var FONT = "'Liberation Sans', Arial, sans-serif";
var OBS_LINE = '#3f5653', EXP_LINE = '#f2a71b';
var OBS_DOT = 'rgba(165,172,175,0.5)', EXP_DOT = 'rgba(250,196,110,0.5)';
var AXIS = '#c6c6c6';

function toPairs(values, offset) {
  return values.map(function (v, i) {
    return [+(firstMonth + (i + offset) * stepYears).toFixed(4), v];
  });
}

var chart = echarts.init(document.getElementById('container'));
var grid = [], xAxis = [], yAxis = [], series = [], title = [], graphic = [];

titles.forEach(function (name, p) {
  var r = Math.floor(p / 5), c = p % 5;
  var dec = yTicks[p].some(function (v) { return v % 1 !== 0; }) ? 1 : 0;
  grid.push({ left: colLeft[c], top: rowTop[r], width: colWidth[c], height: rowHeight[r] });
  title.push({
    text: name, left: colLeft[c] + colWidth[c] / 2, top: rowTop[r] - 21, textAlign: 'center',
    textStyle: { fontSize: 14, fontWeight: 'normal', color: '#1a1a1a', fontFamily: FONT }
  });
  xAxis.push({
    type: 'value', gridIndex: p, min: 2015.92, max: 2025.1,
    axisLine: { show: true, lineStyle: { color: AXIS, width: 1.2 } },
    axisTick: { show: true, length: 3, customValues: yearTicks, lineStyle: { color: AXIS } },
    axisLabel: { customValues: yearTicks, fontSize: 11, color: '#333', margin: 5, fontFamily: FONT,
      formatter: function (v) { return String(Math.round(v)); } },
    splitLine: { show: false }
  });
  yAxis.push({
    type: 'value', gridIndex: p, min: yRange[p][0], max: yRange[p][1],
    axisLine: { show: true, lineStyle: { color: AXIS, width: 1.2 } },
    axisTick: { show: false },
    axisLabel: { customValues: yTicks[p], fontSize: 11, color: '#333', margin: 6, fontFamily: FONT,
      formatter: function (v) { return v.toFixed(dec); } },
    splitLine: { show: false }
  });
  series.push({
    name: 'obsPts', type: 'scatter', xAxisIndex: p, yAxisIndex: p, symbolSize: 6, silent: true,
    itemStyle: { color: OBS_DOT }, data: toPairs(observedPts[p], 0), z: 1
  });
  series.push({
    name: 'expPts', type: 'scatter', xAxisIndex: p, yAxisIndex: p, symbolSize: 6, silent: true,
    itemStyle: { color: EXP_DOT }, data: toPairs(expectedPts[p], expStart), z: 1
  });
  series.push({
    name: 'Expected', type: 'line', xAxisIndex: p, yAxisIndex: p, showSymbol: false, symbol: 'circle',
    lineStyle: { color: EXP_LINE, width: 1.7 }, itemStyle: { color: EXP_LINE },
    data: toPairs(expected[p], expStart), z: 3
  });
  series.push({
    name: 'Observed', type: 'line', xAxisIndex: p, yAxisIndex: p, showSymbol: false, symbol: 'circle',
    lineStyle: { color: OBS_LINE, width: 1.7 }, itemStyle: { color: OBS_LINE },
    data: toPairs(observed[p], 0), z: 4,
    markLine: {
      silent: true, symbol: ['none', 'none'], label: { show: false },
      lineStyle: { color: '#b8b8b8', type: [4, 4], width: 1.2 },
      data: [{ xAxis: lockdown }]
    }
  });
});

rowTop.forEach(function (t, r) {
  graphic.push({
    type: 'text', x: 12, y: t + rowHeight[r] / 2, rotation: Math.PI / 2,
    style: { text: 'Monthly incidence', fontSize: 13, fill: '#222', fontFamily: FONT,
      textAlign: 'center', textVerticalAlign: 'middle' }
  });
});
for (var c = 0; c < 4; c++) {
  graphic.push({
    type: 'text', x: colLeft[c] + colWidth[c] / 2, y: 851,
    style: { text: 'Year', fontSize: 14, fill: '#222', fontFamily: FONT,
      textAlign: 'center', textVerticalAlign: 'middle' }
  });
}

chart.setOption({
  animation: false,
  backgroundColor: '#fff',
  textStyle: { fontFamily: FONT },
  title: title,
  grid: grid,
  xAxis: xAxis,
  yAxis: yAxis,
  graphic: graphic,
  legend: {
    orient: 'vertical', left: 1068, top: 700, itemWidth: 44, itemHeight: 12, itemGap: 8,
    selectedMode: false,
    textStyle: { fontSize: 19, color: '#111', fontFamily: FONT },
    data: [
      { name: 'Observed', itemStyle: { color: '#8fb2ad' }, lineStyle: { color: '#5f8b86', width: 3 } },
      { name: 'Expected', itemStyle: { color: '#f8bf8c' }, lineStyle: { color: '#f4a35c', width: 3 } }
    ]
  },
  series: series
});
</script>
</body>
</html>
